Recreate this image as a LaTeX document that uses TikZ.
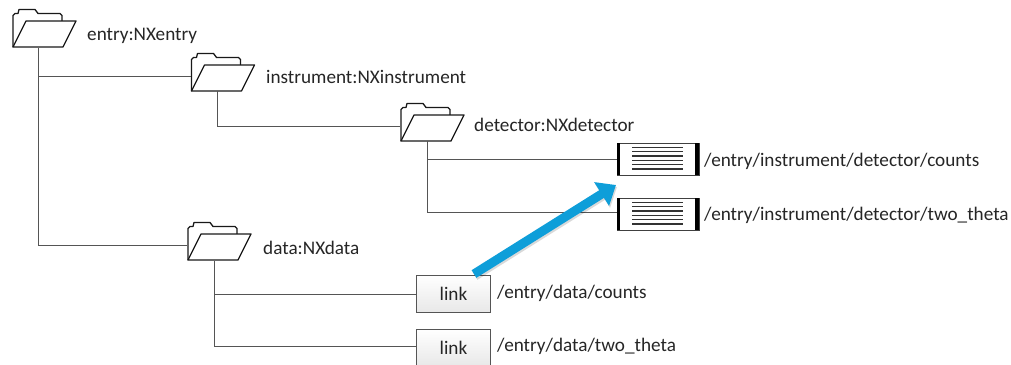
\documentclass[tikz,border=0pt]{standalone}
\usepackage{fontspec}
\setmainfont{Carlito}
\usetikzlibrary{arrows.meta}
\definecolor{txt}{HTML}{262626}
\definecolor{conn}{HTML}{555555}
\definecolor{blu}{HTML}{0E9ED9}
\tikzset{
  conline/.style={draw=conn,line width=0.9pt},
  lab/.style={anchor=west,inner sep=0pt,text=txt,font=\fontsize{19.2}{20}\selectfont},
  folderbox/.style={minimum width=63pt,minimum height=39pt,inner sep=0pt,anchor=north west},
  folderline/.style={draw=black!90,line width=1.3pt,line join=round},
  linkbox/.style={draw=conn,line width=1pt,minimum width=74pt,minimum height=37pt,inner sep=0pt,anchor=north west,top color=white,bottom color=black!9,text=txt,font=\fontsize{19.2}{20}\selectfont},
  filebox/.style={draw=black!75,line width=1pt,fill=white,minimum width=82pt,minimum height=32pt,inner sep=0pt,anchor=north west},
  bigarrow/.style={line width=9pt,-{Triangle[length=17pt,width=27pt]}},
}
\newcommand{\folderat}[3]{% name, x, y of top-left
  \node[folderbox] (#1) at (#2,#3) {};
  \begin{scope}[shift={(#2,#3)}]
    \draw[folderline] (0,38.5) -- (0,7) -- (2,5) -- (5,5) -- (6,1) -- (22,1) -- (25,5) -- (47,5) -- (49,7) -- (49,12.5);
    \draw[folderline,fill=white] (13,12.5) -- (63,12.5) -- (50,38.5) -- (0,38.5) -- cycle;
  \end{scope}
}
\newcommand{\fileat}[3]{% name, x, y of top-left
  \node[filebox] (#1) at (#2,#3) {};
  \begin{scope}[shift={(#2,#3)}]
    \fill[black] (0,0) rectangle (3,32);
    \fill[black] (78,0) rectangle (82,32);
    \foreach \yy in {4.5,8.8,13.1,17.4,21.7,26}
      \draw[draw=black!80,line width=1.3pt] (15,\yy) -- (66,\yy);
  \end{scope}
}
\begin{document}
\begin{tikzpicture}[x=1pt,y=-1pt]
\useasboundingbox (0,0) rectangle (1011,364);
\clip (0,0) rectangle (1011,364);
\fill[white] (0,0) rectangle (1011,364);
% folders
\folderat{f1}{13}{8.5}
\folderat{f2}{191.5}{52.5}
\folderat{f3}{401}{102.5}
\folderat{f4}{188}{221.5}
% files
\fileat{d1}{617}{143}
\fileat{d2}{617}{198}
% links
\node[linkbox] (l1) at (416,274.5) {link};
\node[linkbox] (l2) at (416,328.5) {link};
% junction coordinates
\coordinate (s1) at (38,48);
\coordinate (s2) at (217,91);
\coordinate (s3) at (427,141);
\coordinate (s4) at (214,261);
\coordinate (i2) at (191,76);
\coordinate (i4) at (187,245);
\coordinate (i3) at (400,126);
\coordinate (i5) at (617,159);
\coordinate (i6) at (617,212);
\coordinate (i7) at (416,294);
\coordinate (i8) at (416,346);
\coordinate (a1) at ([xshift=-17pt,yshift=0.5pt]l1.north east);
\coordinate (a2) at ([xshift=-1pt,yshift=-9pt]d1.south west);
\coordinate (b1) at ([xshift=1pt,yshift=-2pt]a1);
\coordinate (b2) at ([xshift=1pt,yshift=-2pt]a2);
% connectors
\draw[conline] (s1) |- (i4);
\draw[conline] (s1 |- i2) -- (i2);
\draw[conline] (s2) |- (i3);
\draw[conline] (s3) |- (i6);
\draw[conline] (s3 |- i5) -- (i5);
\draw[conline] (s4) |- (i8);
\draw[conline] (s4 |- i7) -- (i7);
% blue arrow
\draw[draw=black,opacity=0.15,bigarrow] (b1) -- (b2);
\draw[draw=blu,bigarrow] (a1) -- (a2);
% labels
\node[lab] (t1) at (87,35.5) {entry:NXentry};
\node[lab] (t2) at (266,77) {instrument:NXinstrument};
\node[lab] (t3) at (474,125) {detector:NXdetector};
\node[lab] (t4) at (263,248) {data:NXdata};
\node[lab] (t5) at (704,161) {/entry/instrument/detector/counts};
\node[lab] (t6) at (704,215) {/entry/instrument/detector/two\_theta};
\node[lab] (t7) at (497,293) {/entry/data/counts};
\node[lab] (t8) at (497,346) {/entry/data/two\_theta};
\end{tikzpicture}
\end{document}
